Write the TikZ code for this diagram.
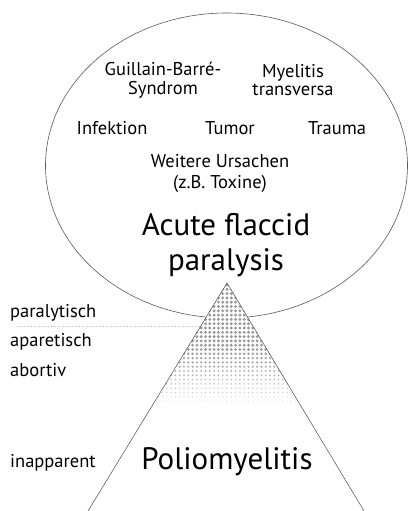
\documentclass[tikz,border=0pt]{standalone}
\usepackage{fontspec}
\setmainfont{PT Sans}
\tikzset{
  cause/.style={align=center, font=\fontsize{18.5}{18.5}\selectfont, inner sep=0pt},
  form/.style={anchor=west, font=\fontsize{18.5}{18}\selectfont, inner sep=0pt},
  big/.style={align=center, font=\fontsize{31}{35}\selectfont, inner sep=0pt}
}
\begin{document}
\begin{tikzpicture}[x=1pt,y=-1pt]
    \useasboundingbox (0,0) rectangle (408,511);
    % ellipse: acute flaccid paralysis
    \draw[gray!70!black, line width=0.6pt] (226.5,165.5) ellipse [x radius=181pt, y radius=152.5pt];
    % pyramid
    \coordinate (apex) at (227,283);
    \coordinate (bl) at (88,511);
    \coordinate (br) at (364,511);
    \fill[white] (apex) -- (bl) -- (br) -- cycle;
    \begin{scope}
      \clip (apex) -- (bl) -- (br) -- cycle;
      \foreach \j in {0,...,27} {
        \pgfmathsetmacro{\yy}{285+4.3*\j}
        \pgfmathsetmacro{\rr}{\j<14 ? 1.6 : 1.6-1.15*(\j-14)/13}
        \pgfmathsetmacro{\gg}{\j<14 ? 80 : 80-40*(\j-14)/13}
        \foreach \i in {-18,...,18}
          \fill[gray!\gg] (227+4.3*\i,\yy) circle (\rr pt);
      }
    \end{scope}
    \draw[gray!60!black, line width=0.5pt] (bl) -- (apex) -- (br);
    % separation paralytic
    \coordinate (sep) at (17,326);
    \draw[gray!50, dotted, line width=0.4pt] (sep) -- (201,326);
    % causes
    \node[cause] (gbs) at (163,80) {Guillain-Barré-\\Syndrom};
    \node[cause] (myel) at (293,80) {Myelitis\\transversa};
    \node[cause] (inf) at (112,128) {Infektion};
    \node[cause] (tum) at (230,128) {Tumor};
    \node[cause] (trau) at (337,128) {Trauma};
    \node[cause, font=\fontsize{18.5}{21}\selectfont] (other) at (220,173) {Weitere Ursachen\\(z.B. Toxine)};
    \node[big] (afp) at (226,245) {Acute flaccid\\paralysis};
    % forms
    \node[form] (par) at (10,313) {paralytisch};
    \node[form] (apar) at (10,342) {aparetisch};
    \node[form] (abort) at (10,370) {abortiv};
    \node[form] (inapp) at (10,463) {inapparent};
    \node[big] (polio) at (227,462) {Poliomyelitis};
\end{tikzpicture}
\end{document}
